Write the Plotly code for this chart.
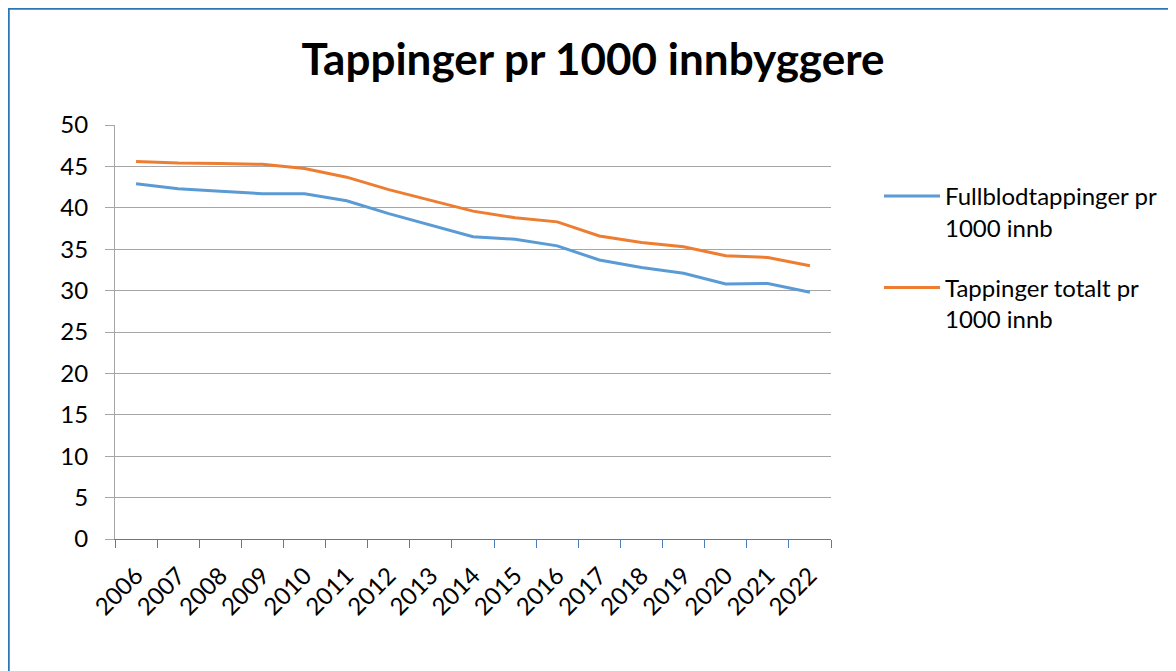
import plotly.graph_objects as go

years = [str(y) for y in range(2006, 2023)]
fullblod = [42.9, 42.3, 42.0, 41.7, 41.7, 40.85, 39.3, 37.9, 36.5, 36.2, 35.4, 33.7, 32.8, 32.1, 30.8, 30.85, 29.8]
totalt = [45.6, 45.4, 45.35, 45.25, 44.75, 43.7, 42.2, 40.9, 39.6, 38.8, 38.3, 36.6, 35.8, 35.3, 34.2, 34.0, 33.0]
series_names = ["Fullblodtappinger pr<br>1000 innb", "Tappinger totalt pr<br>1000 innb"]
title_text = "Tappinger pr 1000 innbyggere"
y_ticks = list(range(0, 51, 5))

FONT = "Lato, Carlito, Calibri, sans-serif"
L, T, PW, PH = 107, 117, 716, 414

fig = go.Figure()
fig.add_trace(go.Scatter(x=years, y=fullblod, mode="lines", name=series_names[0], legendgroup="a",
                         line=dict(color="#5B9BD5", width=3)))
fig.add_trace(go.Scatter(x=years, y=totalt, mode="lines", name=series_names[1], legendgroup="b",
                         line=dict(color="#ED7D31", width=3)))

fig.update_layout(
    width=1176, height=671,
    paper_bgcolor="white", plot_bgcolor="white",
    margin=dict(l=L, r=1176 - L - PW, t=T, b=671 - T - PH),
    font=dict(family=FONT, size=23, color="black"),
    title=dict(text="<b>" + title_text + "</b>", x=585/1176, xanchor="center",
               y=1 - 52/671, yanchor="middle", xref="container", yref="container",
               font=dict(family=FONT, size=44, color="black")),
    legend=dict(x=(871 - L)/PW, xanchor="left", y=1 - (166 - T)/PH, yanchor="top",
                font=dict(family=FONT, size=24), valign="top",
                itemwidth=56, tracegroupgap=26, bgcolor="rgba(0,0,0,0)"),
    shapes=[
        dict(type="line", xref="paper", yref="paper", x0=-L/PW, x1=(1176 - L)/PW,
             y0=1 + (T - 0.5)/PH, y1=1 + (T - 0.5)/PH, line=dict(color="#2E75B6", width=2.5)),
        dict(type="line", xref="paper", yref="paper", x0=-(L - 0.5)/PW, x1=-(L - 0.5)/PW,
             y0=1 + (T - 0.5)/PH, y1=-(671 - T - PH)/PH, line=dict(color="#2E75B6", width=2.5)),
    ],
)

fig.update_xaxes(
    type="category", range=[-0.5, 16.5], tickangle=-45,
    showline=True, linecolor="#4A7EBB", linewidth=1.2,
    ticks="outside", tickson="boundaries", ticklen=8, tickcolor="#4A7EBB",
    showgrid=False, tickfont=dict(family=FONT, size=24), ticklabelstandoff=12,
)
fig.update_yaxes(
    range=[0, 50], tickvals=y_ticks, showline=True, linecolor="#A6A6A6", linewidth=1.2,
    ticks="outside", ticklen=9, tickcolor="#A6A6A6",
    showgrid=True, gridcolor="#A6A6A6", gridwidth=1.2, zeroline=False,
    tickfont=dict(family=FONT, size=24), ticklabelstandoff=12,
)

fig.write_html("out.html")
